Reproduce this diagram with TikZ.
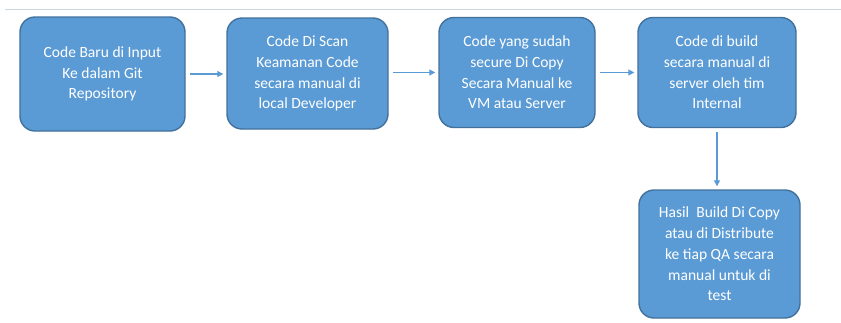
\documentclass[tikz,border=0pt]{standalone}
\usepackage{fontspec}
\setmainfont{Carlito}
\usetikzlibrary{arrows.meta}
\definecolor{boxfill}{HTML}{5B9BD5}
\definecolor{boxdraw}{HTML}{41719C}
\definecolor{topline}{HTML}{CDD6E0}
\tikzset{
  flowbox/.style={draw=boxdraw, line width=1.4bp, fill=boxfill, rounded corners=15bp,
    text=white, align=center, font=\fontsize{15.6}{20.8}\selectfont, inner sep=0pt},
  flowarrow/.style={draw=boxfill, line width=1.1bp, -{Triangle[length=6bp,width=6bp]},
    shorten <=4bp, shorten >=3bp}
}
\begin{document}
\begin{tikzpicture}[x=1bp,y=-1bp]
\useasboundingbox (0,0) rectangle (841,322);
\draw[topline, line width=1bp] (5,9) -- (841,9);
\node[flowbox, minimum width=165bp, minimum height=114bp] (b1) at (102.5,74)
  {Code Baru di Input\\Ke dalam Git\\Repository};
\node[flowbox, minimum width=161bp, minimum height=111bp] (b2) at (307.5,73.5)
  {Code Di Scan\\Keamanan Code\\secara manual di\\local Developer};
\node[flowbox, minimum width=156bp, minimum height=110bp] (b3) at (517,72.5)
  {Code yang sudah\\secure Di Copy\\Secara Manual ke\\VM atau Server};
\node[flowbox, minimum width=158bp, minimum height=110bp] (b4) at (717,72.5)
  {Code di build\\secara manual di\\server oleh tim\\Internal};
\node[flowbox, minimum width=161bp, minimum height=128bp] (b5) at (719.5,254)
  {Hasil\ \ Build Di Copy\\atau di Distribute\\ke tiap QA secara\\manual untuk di\\test};
\draw[flowarrow] (b1.east) -- (b1.east -| b2.west);
\draw[flowarrow] (b3.west -| b2.east) -- (b3.west);
\draw[flowarrow] (b3.east) -- (b4.west);
\draw[flowarrow] (b4.south) -- (b4.south |- b5.north);
\end{tikzpicture}
\end{document}
